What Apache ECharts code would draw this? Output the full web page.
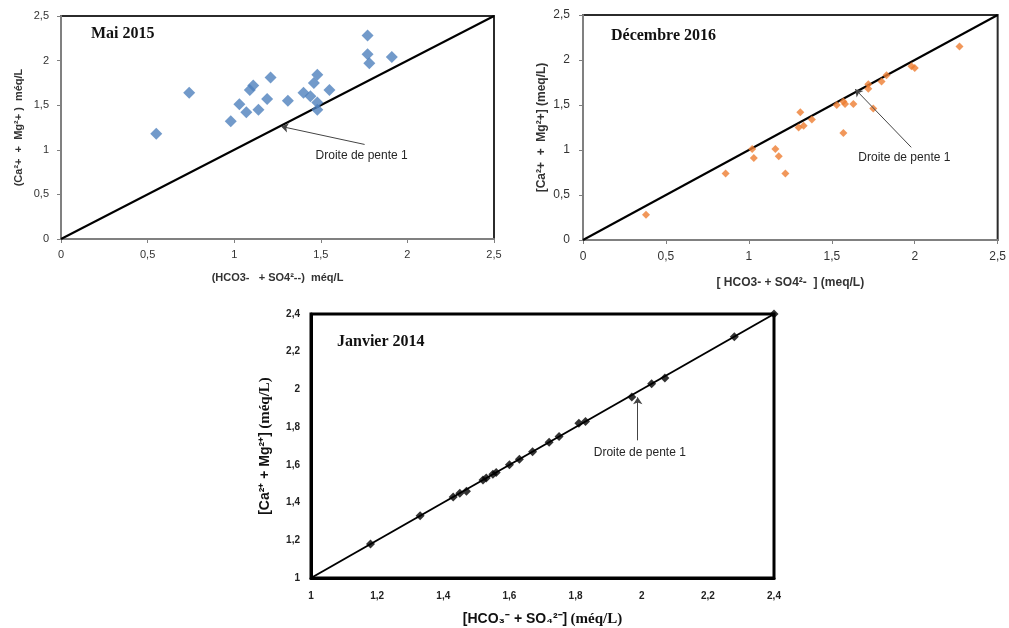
<!DOCTYPE html>
<html>
<head>
<meta charset="utf-8">
<script src="https://cdn.jsdelivr.net/npm/echarts@6/dist/echarts.min.js"></script>
<style>
  html, body { margin: 0; padding: 0; background: #fff; }
  #chart { width: 1009px; height: 628px; }
</style>
</head>
<body>
<div id="chart"></div>
<script>
// Mai 2015
const maiX = [0.55, 0.74, 0.98, 1.03, 1.07, 1.09, 1.11, 1.14, 1.21, 1.19, 1.31, 1.40, 1.44, 1.46, 1.48, 1.48, 1.48, 1.55, 1.77, 1.77, 1.78, 1.91];
const maiY = [1.18, 1.64, 1.32, 1.51, 1.42, 1.67, 1.72, 1.45, 1.81, 1.57, 1.55, 1.64, 1.60, 1.75, 1.84, 1.53, 1.45, 1.67, 2.28, 2.07, 1.97, 2.04];
// Décembre 2016
const decX = [0.38, 0.86, 1.02, 1.03, 1.16, 1.18, 1.22, 1.30, 1.31, 1.33, 1.38, 1.53, 1.57, 1.58, 1.57, 1.63, 1.75, 1.72, 1.72, 1.80, 1.83, 1.98, 2.00, 2.27];
const decY = [0.28, 0.74, 1.01, 0.91, 1.01, 0.93, 0.74, 1.25, 1.42, 1.27, 1.34, 1.50, 1.54, 1.51, 1.19, 1.51, 1.46, 1.73, 1.68, 1.76, 1.83, 1.93, 1.91, 2.15];
// Janvier 2014
const janX = [1.18, 1.33, 1.43, 1.45, 1.47, 1.52, 1.53, 1.55, 1.56, 1.60, 1.63, 1.67, 1.72, 1.75, 1.81, 1.83, 1.97, 2.03, 2.07, 2.28, 2.40];
const janY = [1.18, 1.33, 1.43, 1.45, 1.46, 1.52, 1.53, 1.55, 1.56, 1.60, 1.63, 1.67, 1.72, 1.75, 1.82, 1.83, 1.96, 2.03, 2.06, 2.28, 2.40];

// droites de pente 1
const penteMai = [[0, 0], [2.5, 2.5]];
const penteDec = [[0, 0], [2.5, 2.5]];
const penteJan = [[1, 1], [2.4, 2.4]];

// flèches "Droite de pente 1" : [queue, pointe, texte]
const flecheMai = [[1.753, 1.06], [1.271, 1.262], [1.47, 0.93]];
const flecheDec = [[1.979, 1.03], [1.641, 1.676], [1.66, 0.91]];
const flecheJan = [[1.988, 1.73], [1.988, 1.958], [1.855, 1.666]];

const zip = (a, b) => a.map((v, i) => [v, b[i]]);
const fmt = v => String(Math.round(v * 10) / 10).replace('.', ',');

function axe(idx, min, max, step, opts) {
  return Object.assign({
    gridIndex: idx, type: 'value', min: min, max: max, interval: step,
    splitLine: { show: false },
    axisLine: { lineStyle: { color: '#808080', width: 2 } },
    axisTick: { show: true, length: 4, lineStyle: { color: '#808080' } },
    axisLabel: { formatter: fmt, color: '#333', fontSize: 11, fontFamily: 'Liberation Sans' },
    nameLocation: 'middle'
  }, opts);
}

function fleche(f) {
  return {
    markLine: {
      silent: true, animation: false,
      symbol: ['none', 'arrow'], symbolSize: 7,
      lineStyle: { color: '#444', width: 1, type: 'solid' },
      label: { show: false },
      data: [[{ coord: f[0] }, { coord: f[1] }]]
    },
    markPoint: {
      silent: true, animation: false,
      symbol: 'circle', symbolSize: 0,
      label: {
        show: true, position: 'right', distance: 0,
        formatter: 'Droite de pente 1',
        color: '#262626', fontSize: 12, fontFamily: 'Liberation Sans'
      },
      data: [{ coord: f[2] }]
    }
  };
}

const titre = (txt, left, top) => ({
  text: txt, left: left, top: top,
  textStyle: { fontFamily: 'Liberation Serif', fontWeight: 'bold', fontSize: 16, color: '#111' }
});

const myChart = echarts.init(document.getElementById('chart'));
myChart.setOption({
  animation: false,
  title: [
    titre('Mai 2015', 86, 21),
    titre('Décembre 2016', 606, 23),
    titre('Janvier 2014', 332, 329)
  ],
  grid: [
    { left: 61, top: 16, width: 433, height: 223, show: true, borderColor: '#2b2b2b', borderWidth: 2 },
    { left: 583, top: 15, width: 419, height: 225, show: true, borderColor: '#2b2b2b', borderWidth: 2 },
    { left: 311, top: 314, width: 463, height: 267, show: true, borderColor: '#000', borderWidth: 3 }
  ],
  xAxis: [
    axe(0, 0, 2.5, 0.5, {
      name: '(HCO3-   + SO4²--)  méq/L', nameGap: 33,
      nameTextStyle: { fontWeight: 'bold', fontSize: 11, color: '#333', fontFamily: 'Liberation Sans' },
      axisLabel: { formatter: fmt, color: '#333', fontSize: 11, margin: 10, fontFamily: 'Liberation Sans' }
    }),
    axe(1, 0, 2.5, 0.5, {
      name: '[ HCO3- + SO4²-  ] (meq/L)', nameGap: 37,
      nameTextStyle: { fontWeight: 600, fontSize: 12, color: '#333', fontFamily: 'Liberation Sans' },
      axisLabel: { formatter: fmt, color: '#333', fontSize: 12, margin: 11, fontFamily: 'Liberation Sans' }
    }),
    axe(2, 1, 2.4, 0.2, {
      name: '{a|[HCO₃⁻ + SO₄²⁻]} {b|(méq/L)}', nameGap: 34,
      axisLine: { lineStyle: { color: '#000', width: 3 } },
      axisTick: { show: false },
      nameTextStyle: {
        rich: {
          a: { fontFamily: 'Liberation Sans', fontWeight: 'bold', fontSize: 14, color: '#111' },
          b: { fontFamily: 'Liberation Serif', fontWeight: 'bold', fontSize: 15, color: '#111' }
        }
      },
      axisLabel: { formatter: fmt, color: '#222', fontSize: 10, fontWeight: 'bold', margin: 13, fontFamily: 'Liberation Sans' }
    })
  ],
  yAxis: [
    axe(0, 0, 2.5, 0.5, {
      name: '(Ca²+  +  Mg²+ )  méq/L', nameGap: 37,
      nameTextStyle: { fontWeight: 'bold', fontSize: 11, color: '#333', fontFamily: 'Liberation Sans' },
      axisLabel: { formatter: fmt, color: '#333', fontSize: 11, margin: 12, fontFamily: 'Liberation Sans' }
    }),
    axe(1, 0, 2.5, 0.5, {
      name: '[Ca²+  +  Mg²+] (meq/L)', nameGap: 35,
      nameTextStyle: { fontWeight: 600, fontSize: 12, color: '#333', fontFamily: 'Liberation Sans' },
      axisLabel: { formatter: fmt, color: '#333', fontSize: 12, margin: 13, fontFamily: 'Liberation Sans' }
    }),
    axe(2, 1, 2.4, 0.2, {
      name: '{a|[Ca²⁺ + Mg²⁺]} {b|(méq/L)}', nameGap: 38,
      axisLine: { lineStyle: { color: '#000', width: 3 } },
      axisTick: { show: false },
      nameTextStyle: {
        rich: {
          a: { fontFamily: 'Liberation Sans', fontWeight: 'bold', fontSize: 14, color: '#111' },
          b: { fontFamily: 'Liberation Serif', fontWeight: 'bold', fontSize: 15, color: '#111' }
        }
      },
      axisLabel: { formatter: fmt, color: '#222', fontSize: 10, fontWeight: 'bold', margin: 11, fontFamily: 'Liberation Sans' }
    })
  ],
  series: [
    Object.assign({
      type: 'line', xAxisIndex: 0, yAxisIndex: 0, data: penteMai,
      showSymbol: false, silent: true, lineStyle: { color: '#000', width: 2 }, z: 1
    }, fleche(flecheMai)),
    {
      type: 'scatter', xAxisIndex: 0, yAxisIndex: 0, data: zip(maiX, maiY),
      symbol: 'diamond', symbolSize: 12, itemStyle: { color: '#4F81BD' }, z: 2
    },
    Object.assign({
      type: 'line', xAxisIndex: 1, yAxisIndex: 1, data: penteDec,
      showSymbol: false, silent: true, lineStyle: { color: '#000', width: 2 }, z: 1
    }, fleche(flecheDec)),
    {
      type: 'scatter', xAxisIndex: 1, yAxisIndex: 1, data: zip(decX, decY),
      symbol: 'diamond', symbolSize: 8, itemStyle: { color: '#ED7D31' }, z: 2
    },
    Object.assign({
      type: 'line', xAxisIndex: 2, yAxisIndex: 2, data: penteJan,
      showSymbol: false, silent: true, lineStyle: { color: '#000', width: 2 }, z: 1
    }, fleche(flecheJan)),
    {
      type: 'scatter', xAxisIndex: 2, yAxisIndex: 2, data: zip(janX, janY),
      symbol: 'diamond', symbolSize: 9, itemStyle: { color: '#000' }, z: 2
    }
  ]
});
</script>
</body>
</html>
